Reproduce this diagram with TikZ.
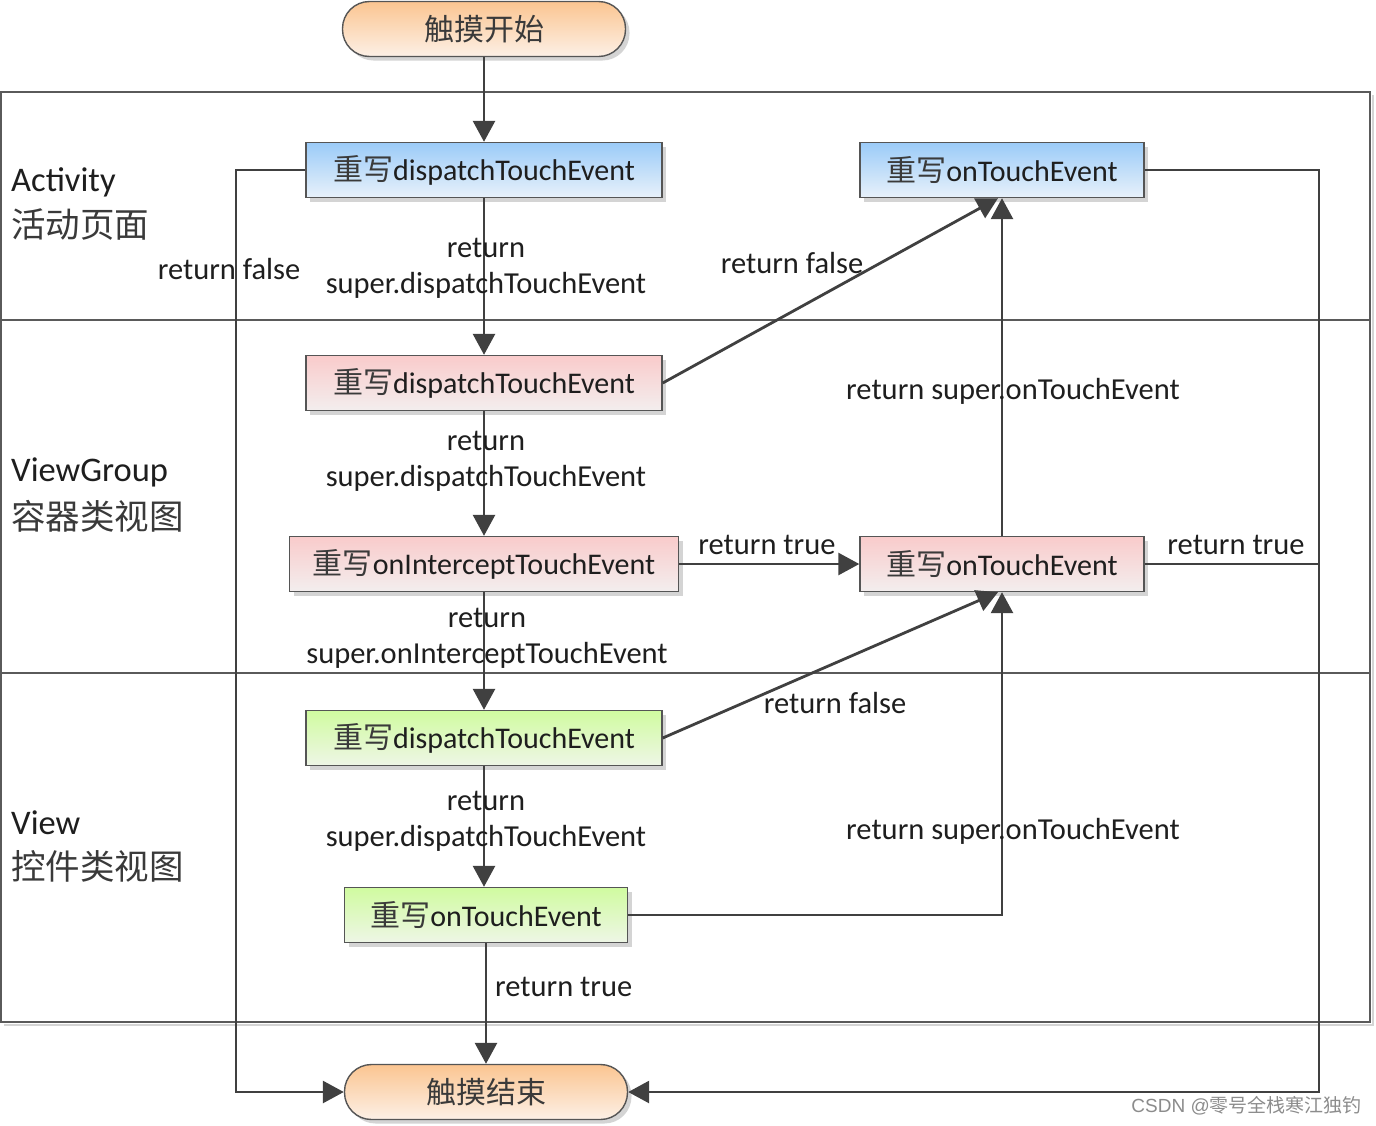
\documentclass[tikz,border=0pt]{standalone}
\usepackage{fontspec}
\setmainfont{Carlito}
\newfontfamily\cjk{Noto Sans CJK SC}
\newfontfamily\wmfont{Liberation Sans}
\usetikzlibrary{arrows.meta,shadows}
\definecolor{linec}{HTML}{404040}
\definecolor{framec}{HTML}{5A5A5A}
\definecolor{boxc}{HTML}{555555}
\definecolor{textc}{HTML}{1E1E1E}
\definecolor{cjkc}{HTML}{3A3A3A}
\definecolor{orangeT}{HTML}{FBC591}
\definecolor{orangeB}{HTML}{FCF0E6}
\definecolor{blueT}{HTML}{9BCBF8}
\definecolor{blueB}{HTML}{E8F1FA}
\definecolor{pinkT}{HTML}{F9CBCB}
\definecolor{pinkB}{HTML}{F3EEEE}
\definecolor{greenT}{HTML}{D0FBA0}
\definecolor{greenB}{HTML}{EEF6E6}
\definecolor{shadowc}{HTML}{D4D4D4}
\definecolor{wmc}{HTML}{8C8C8C}
\begin{document}
\begin{tikzpicture}[x=1pt,y=-1pt,
  boxnode/.style={draw=boxc, line width=1.4pt, minimum height=55pt, inner sep=0pt,
    font=\fontsize{30}{33}\selectfont, text=textc,
    drop shadow={shadow xshift=4pt, shadow yshift=-4pt, fill=shadowc, opacity=1}},
  pill/.style={boxnode, rounded corners=27pt, top color=orangeT, bottom color=orangeB},
  bluebox/.style={boxnode, top color=blueT, bottom color=blueB},
  pinkbox/.style={boxnode, top color=pinkT, bottom color=pinkB},
  greenbox/.style={boxnode, top color=greenT, bottom color=greenB},
  arr/.style={draw=linec, line width=2.8pt, -{Triangle[length=21pt,width=22pt]}},
  conn/.style={draw=linec, line width=2.8pt},
  framel/.style={draw=framec, line width=1.3pt},
  lbl/.style={font=\fontsize{30.5}{36}\selectfont, text=textc, inner sep=0pt, align=center},
  lanel/.style={font=\fontsize{34.5}{38}\selectfont, text=textc, inner sep=0pt, anchor=west},
  lanec/.style={font=\cjk\fontsize{34.5}{38}\selectfont, text=cjkc, inner sep=0pt, anchor=west}
]
\useasboundingbox (0,0) rectangle (1376,1125);
\fill[white] (0,0) rectangle (1376,1125);
% swimlane frame
\draw[shadowc, line width=2pt] (1373,95) -- (1373,1025) -- (4,1025);
\draw[framel] (1,92) rectangle (1370,1022);
\draw[framel] (1,320) -- (1370,320);
\draw[framel] (1,673) -- (1370,673);
% lane labels
\node[lanel] (l1) at (11,182) {Activity};
\node[lanec] (l1c) at (11,225) {活动页面};
\node[lanel] (l2) at (11,472) {ViewGroup};
\node[lanec] (l2c) at (11,516) {容器类视图};
\node[lanel] (l3) at (11,823) {View};
\node[lanec] (l3c) at (11,866) {控件类视图};
% nodes
\node[pill, minimum width=283pt] (start) at (484,29) {{\cjk\color{cjkc}触摸开始}};
\node[bluebox, minimum width=356pt] (a1) at (484,170) {{\cjk\color{cjkc}重写}dispatchTouchEvent};
\node[bluebox, minimum width=284pt] (a2) at (1002,170) {{\cjk\color{cjkc}重写}onTouchEvent};
\node[pinkbox, minimum width=356pt] (b1) at (484,383) {{\cjk\color{cjkc}重写}dispatchTouchEvent};
\node[pinkbox, minimum width=389pt] (b2) at (484,564) {{\cjk\color{cjkc}重写}onInterceptTouchEvent};
\node[pinkbox, minimum width=284pt] (b3) at (1002,564) {{\cjk\color{cjkc}重写}onTouchEvent};
\node[greenbox, minimum width=356pt] (c1) at (484,738) {{\cjk\color{cjkc}重写}dispatchTouchEvent};
\node[greenbox, minimum width=283pt] (c2) at (486,915) {{\cjk\color{cjkc}重写}onTouchEvent};
\node[pill, minimum width=283pt] (end) at (486,1092) {{\cjk\color{cjkc}触摸结束}};
% corner coordinates
\coordinate (lx) at (236,170);
\coordinate (rx) at (1319,170);
\coordinate (rj) at (1319,564);
% connectors
\draw[arr] (start) -- (a1);
\draw[arr] (a1) -- (b1);
\draw[arr] (b1) -- (b2);
\draw[arr] (b2) -- (c1);
\draw[arr] (c1.south) -- (c1.south |- c2.north);
\draw[arr] (c2) -- (end);
\draw[arr] (a1.west) -- (lx) |- (end.west);
\draw[arr] (b1.east) -- ([xshift=-4pt]a2.south);
\draw[arr] (b3.north) -- (a2.south);
\draw[arr] (b2.east) -- (b3.west);
\draw[arr] (c1.east) -- ([xshift=-4pt]b3.south);
\draw[arr] (c2.east) -| (b3.south);
\draw[arr] (a2.east) -- (rx) |- (end.east);
\draw[conn] (b3.east) -- (rj);
% labels
\node[lbl] (t1) at (486,268) {return\\super.dispatchTouchEvent};
\node[lbl] (t2) at (486,461) {return\\super.dispatchTouchEvent};
\node[lbl] (t3) at (487,638) {return\\super.onInterceptTouchEvent};
\node[lbl] (t4) at (486,821) {return\\super.dispatchTouchEvent};
\node[lbl, anchor=west] (t5) at (495,987) {return true};
\node[lbl] (t6) at (229,269) {return false};
\node[lbl] (t7) at (792,263) {return false};
\node[lbl] (t8) at (767,545) {return true};
\node[lbl] (t9) at (1236,545) {return true};
\node[lbl] (t10) at (835,703) {return false};
\node[lbl] (t11) at (1013,391) {return super.onTouchEvent};
\node[lbl] (t12) at (1013,831) {return super.onTouchEvent};
% watermark
\node[font=\fontsize{19}{22}\selectfont, text=wmc, anchor=east, inner sep=0pt] (wm) at (1362,1106) {{\wmfont CSDN @}{\cjk 零号全栈寒江独钓}};
\end{tikzpicture}
\end{document}
